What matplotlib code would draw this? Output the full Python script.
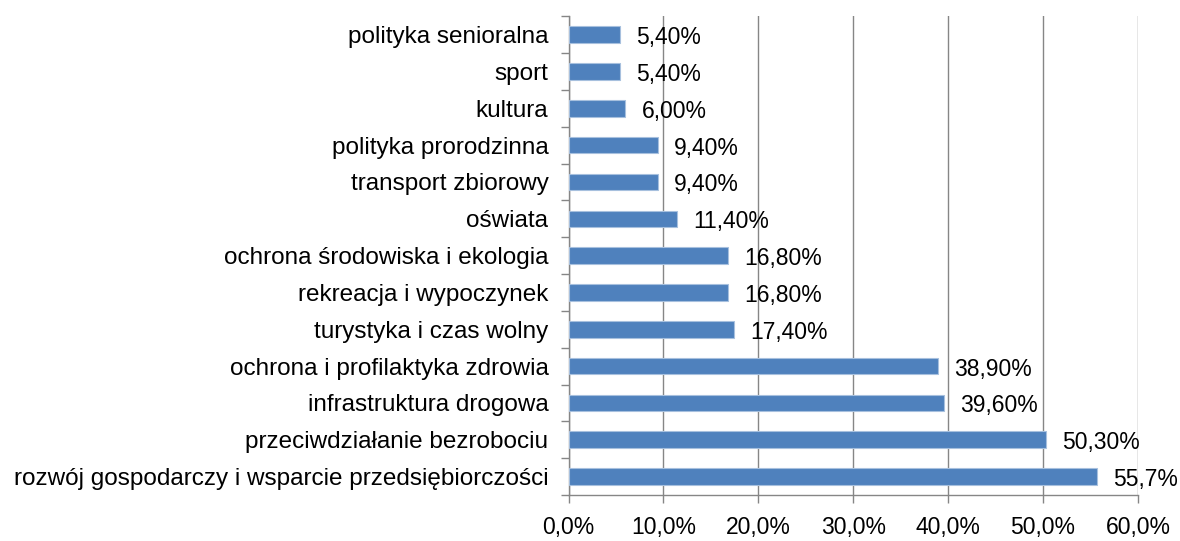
import numpy as np
import matplotlib.pyplot as plt
from matplotlib.ticker import FixedLocator, FuncFormatter

# data, bottom to top
categories = [
    "rozwój gospodarczy i wsparcie przedsiębiorczości",
    "przeciwdziałanie bezrobociu",
    "infrastruktura drogowa",
    "ochrona i profilaktyka zdrowia",
    "turystyka i czas wolny",
    "rekreacja i wypoczynek",
    "ochrona środowiska i ekologia",
    "oświata",
    "transport zbiorowy",
    "polityka prorodzinna",
    "kultura",
    "sport",
    "polityka senioralna",
]
values = [55.7, 50.3, 39.6, 38.9, 17.4, 16.8, 16.8, 11.4, 9.4, 9.4, 6.0, 5.4, 5.4]
value_labels = ["55,7%", "50,30%", "39,60%", "38,90%", "17,40%", "16,80%", "16,80%",
                "11,40%", "9,40%", "9,40%", "6,00%", "5,40%", "5,40%"]
x_ticks = [0, 10, 20, 30, 40, 50, 60]

plt.rcParams['font.family'] = ['Liberation Sans', 'DejaVu Sans']
FS_CAT = 17.5
FS_NUM = 16.5

fig = plt.figure(figsize=(11.8, 5.41), dpi=100)
ax = fig.add_axes([0.4818, 0.085, 0.4826, 0.885])

y = np.arange(len(categories))
ax.barh(y, values, height=0.45, color='#4F81BD', edgecolor='#A7C0DE', linewidth=0.8, zorder=3)

for yi, v, lab in zip(y, values, value_labels):
    ax.text(v + 1.7, yi - 0.08, lab, va='center', ha='left', fontsize=FS_NUM, color='black', zorder=4)

ax.set_xlim(0, 60)
ax.set_ylim(-0.5, len(categories) - 0.5)
ax.xaxis.set_major_locator(FixedLocator(x_ticks))
ax.xaxis.set_major_formatter(FuncFormatter(lambda v, p: f"{v:.1f}%".replace('.', ',')))
ax.set_yticks(y)
ax.set_yticklabels(categories)
ax.yaxis.set_minor_locator(FixedLocator(np.arange(-0.5, len(categories), 1.0)))

ax.tick_params(axis='y', which='major', length=0, pad=14.5, labelsize=FS_CAT)
ax.tick_params(axis='y', which='minor', length=6, color='#868686', width=1)
ax.tick_params(axis='x', which='major', length=6, color='#868686', width=1, pad=9, labelsize=FS_NUM)

ax.grid(axis='x', color='#868686', linewidth=1, zorder=0)
for s in ['top', 'right']:
    ax.spines[s].set_visible(False)
for s in ['left', 'bottom']:
    ax.spines[s].set_color('#868686')
    ax.spines[s].set_linewidth(1)

fig.savefig('out.png', dpi=100)
